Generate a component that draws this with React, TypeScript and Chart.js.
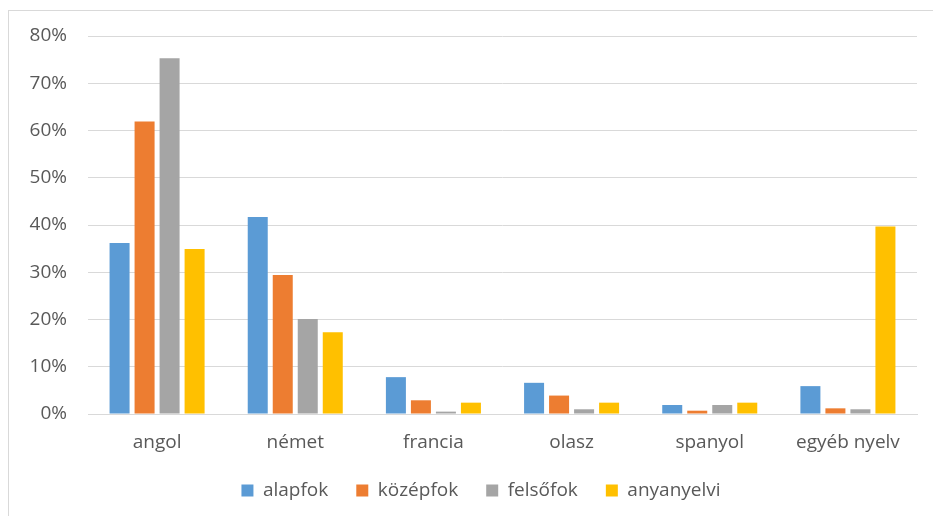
import React, { useEffect, useRef } from "react";
import { Chart, registerables } from "chart.js";

Chart.register(...registerables);

const categories = ["angol", "német", "francia", "olasz", "spanyol", "egyéb nyelv"];
const seriesNames = ["alapfok", "középfok", "felsőfok", "anyanyelvi"];
const alapfok = [36.2, 41.7, 7.8, 6.6, 1.9, 5.9];
const kozepfok = [61.9, 29.4, 2.9, 3.9, 0.7, 1.2];
const felsofok = [75.3, 20.1, 0.5, 1.0, 1.9, 1.0];
const anyanyelvi = [34.9, 17.3, 2.4, 2.4, 2.4, 39.7];
const colors = ["#5b9bd5", "#ed7d31", "#a5a5a5", "#ffc000"];
const yTicks = [0, 10, 20, 30, 40, 50, 60, 70, 80];

const legendShift = {
  id: "legendShift",
  afterLayout(chart: any) {
    const lg = chart.legend;
    if (lg) {
      lg.left += 45;
    }
  },
};

export default function App() {
  const ref = useRef<HTMLCanvasElement | null>(null);
  useEffect(() => {
    if (!ref.current) return;
    const font = { family: "'Open Sans', sans-serif", size: 19 };
    const all = [alapfok, kozepfok, felsofok, anyanyelvi];
    const chart = new Chart(ref.current, {
      type: "bar",
      data: {
        labels: categories,
        datasets: all.map((d, i) => ({
          label: seriesNames[i],
          data: d,
          backgroundColor: colors[i],
          borderWidth: 0,
          categoryPercentage: 0.724,
          barPercentage: 0.8,
        })),
      },
      plugins: [legendShift],
      options: {
        animation: false,
        responsive: false,
        maintainAspectRatio: false,
        layout: { padding: { top: 36, right: 16, bottom: 6, left: 0 } },
        plugins: {
          tooltip: { enabled: false },
          legend: {
            position: "bottom",
            labels: {
              font,
              color: "#595959",
              boxWidth: 12,
              boxHeight: 12,
              padding: 28,
            },
          },
        },
        scales: {
          x: {
            grid: { display: false, drawTicks: false },
            border: { display: true, color: "#d9d9d9", width: 1 },
            ticks: { font, color: "#595959", padding: 17 },
            afterFit: (s: any) => {
              s.height = 39;
            },
          },
          y: {
            min: 0,
            max: 80,
            afterBuildTicks: (s: any) => {
              s.ticks = yTicks.map((v) => ({ value: v }));
            },
            grid: { color: "#d9d9d9", lineWidth: 1, drawTicks: false },
            border: { display: false },
            ticks: {
              font,
              color: "#595959",
              padding: 21,
              callback: (v: any) => v + "%",
            },
            afterFit: (s: any) => {
              s.width = 88;
            },
          },
        },
      },
    });
    return () => chart.destroy();
  }, []);
  return (
    <div style={{ position: "fixed", left: 0, top: 0, width: 933, height: 516, background: "#fff", overflow: "hidden" }}>
      <div
        style={{
          position: "absolute",
          left: 8,
          top: 10,
          width: 1000,
          height: 1000,
          border: "1px solid #d9d9d9",
        }}
      />
      <canvas ref={ref} width={933} height={516} style={{ position: "absolute", left: 0, top: 0 }} />
    </div>
  );
}
